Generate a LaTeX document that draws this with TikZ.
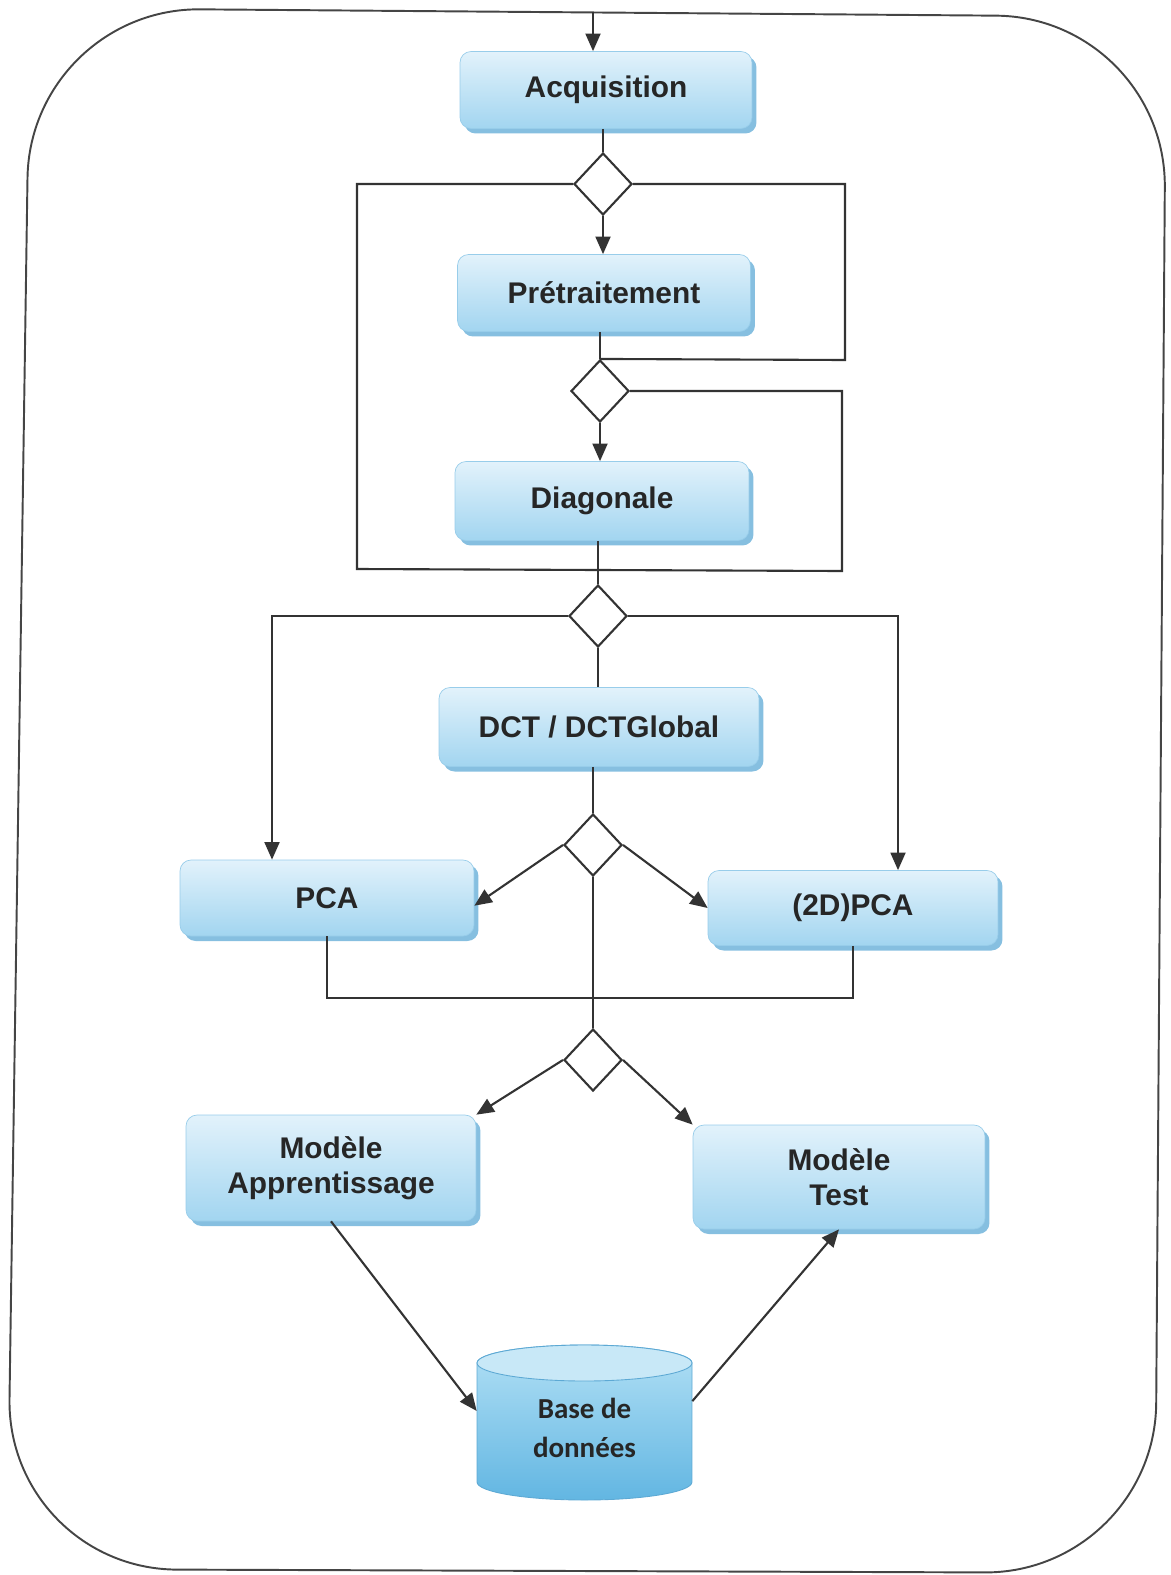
\documentclass[tikz,border=0pt]{standalone}
\usepackage{fontspec}
\setmainfont{Liberation Sans}
\newfontfamily\dbfont{Carlito}
\usetikzlibrary{shapes.geometric,shadows,arrows.meta,calc}
\definecolor{boxtop}{HTML}{E2F2FB}
\definecolor{boxbot}{HTML}{A2D5F0}
\definecolor{boxshadow}{HTML}{86BFE0}
\definecolor{boxedge}{HTML}{98CDEA}
\definecolor{linecol}{HTML}{333333}
\definecolor{textcol}{HTML}{262626}
\definecolor{framecol}{HTML}{454545}
\definecolor{dbtop}{HTML}{B2E0F5}
\definecolor{dbbot}{HTML}{62B6E2}
\definecolor{dbcap}{HTML}{C8E8F7}
\definecolor{dbedge}{HTML}{5DA9D4}
\begin{document}
\begin{tikzpicture}[x=0.02cm,y=-0.02cm,
  proc/.style={rectangle, rounded corners=0.22cm, draw=boxedge, line width=0.4pt,
    top color=boxtop, bottom color=boxbot,
    drop shadow={shadow xshift=0.09cm, shadow yshift=-0.1cm, fill=boxshadow, opacity=1},
    font=\fontsize{17}{20}\selectfont\bfseries, text=textcol, align=center, inner sep=0pt},
  dec/.style={diamond, draw=linecol, line width=1.2pt, fill=white,
    minimum width=1.16cm, minimum height=1.24cm, inner sep=0pt},
  link/.style={draw=linecol, line width=1.2pt},
  arr/.style={link, -{Triangle[length=10pt,width=8.5pt]}},
]
\useasboundingbox (0,0) rectangle (1170,1575);
% outer frame
\draw[draw=framecol, line width=1.1pt, rounded corners=3.4cm]
  (30,8) -- (1166,17) -- (1155,1573) -- (7,1569) -- cycle;

% process boxes
\node[proc, minimum width=5.84cm, minimum height=1.54cm] (acq)  at (606,90)  {Acquisition};
\node[proc, minimum width=5.86cm, minimum height=1.54cm] (pre)  at (604,293) {Prétraitement};
\node[proc, minimum width=5.88cm, minimum height=1.58cm] (diag) at (602,501) {Diagonale};
\node[proc, minimum width=6.40cm, minimum height=1.58cm] (dct)  at (599,727) {DCT / DCTGlobal};
\node[proc, minimum width=5.88cm, minimum height=1.52cm] (pca)  at (327,898) {PCA};
\node[proc, minimum width=5.80cm, minimum height=1.50cm] (pcb)  at (853,908) {(2D)PCA};
\node[proc, minimum width=5.80cm, minimum height=2.12cm] (moda) at (331,1168) {Modèle\\Apprentissage};
\node[proc, minimum width=5.84cm, minimum height=2.08cm] (modt) at (839,1177) {Modèle\\Test};

% decisions
\node[dec] (d1) at (603,184) {};
\node[dec] (d2) at (600,391) {};
\node[dec] (d3) at (598,616) {};
\node[dec] (d4) at (593,845) {};
\node[dec] (d5) at (593,1060) {};

% database cylinder
\shade[top color=dbtop, bottom color=dbbot, draw=dbedge, line width=0.5pt]
  (477,1363) -- (477,1482) arc[start angle=180, end angle=360, x radius=2.15cm, y radius=0.36cm]
  -- (692,1363) arc[start angle=0, end angle=180, x radius=2.15cm, y radius=0.36cm] -- cycle;
\filldraw[fill=dbcap, draw=dbedge, line width=0.5pt] (584.5,1363) ellipse [x radius=2.15cm, y radius=0.36cm];
\node[font=\dbfont\fontsize{16.5}{22.5}\selectfont\bfseries, align=center, text=textcol,
  minimum width=4.3cm, minimum height=3.1cm, inner sep=0pt] (db) at (584.5,1428) {Base de\\données};

% coordinates for free ends
\coordinate (topin) at (593,12.5);
\coordinate (lb) at (357,569);
\coordinate (rb) at (842,571);
\coordinate (r1) at (845,360);
\coordinate (l3) at (272,613);
\coordinate (r3) at (898,617);

% connectors
\draw[arr] (topin) -- (topin |- acq.north);
\draw[link] (d1.north |- acq.south) -- (d1.north);
\draw[arr] (d1.south) -- (d1.south |- pre.north);
\draw[link] (d2.north |- pre.south) -- (d2.north);
\draw[arr] (d2.south) -- (d2.south |- diag.north);
\draw[link] (d3.north |- diag.south) -- (d3.north);
\draw[link] (d1.west) -| (lb) -- (rb) |- (d2.east);
\draw[link] (d1.east) -| (r1) -- (d2.north);
\draw[arr] (d3.west) -| (pca.north -| l3);
\draw[arr] (d3.east) -| (pcb.north -| r3);
\draw[link] (d3.south) -- (d3.south |- dct.north);
\draw[link] (d4.north |- dct.south) -- (d4.north);
\draw[arr] (d4.west) -- (pca.-3);
\draw[arr] (d4.east) -- (pcb.west);
\draw[link] (d4.south) -- (d5.north);
\draw[link] (pca.south) -- ++(0,62) -| (pcb.south);
\draw[arr] (d5.west) -- (moda.north east);
\draw[arr] (d5.east) -- (modt.north west);
\draw[arr] (moda.south) -- (db.171);
\draw[arr] (db.14) -- (modt.south);
\end{tikzpicture}
\end{document}
